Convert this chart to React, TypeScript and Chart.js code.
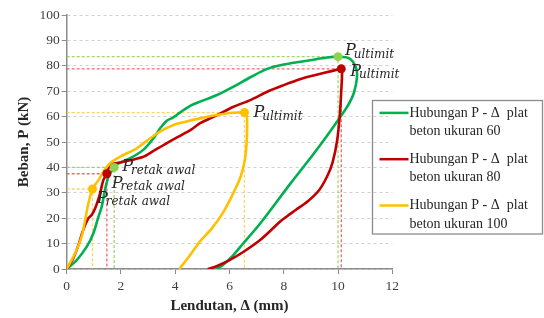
import { useEffect, useRef } from 'react';
import { Chart, registerables } from 'chart.js';

Chart.register(...registerables);

// ---------- data ----------
const seriesNames = [
  ['Hubungan P - Δ  plat', 'beton ukuran 60'],
  ['Hubungan P - Δ  plat', 'beton ukuran 80'],
  ['Hubungan P - Δ  plat', 'beton ukuran 100'],
];

const defl60 = [0, 0.37, 0.74, 0.98, 1.17, 1.29, 1.41, 1.54, 1.75, 1.91, 2.34, 2.83, 3.2, 3.45, 3.7, 3.9, 4.1, 4.31, 4.6, 4.92, 5.54, 6.15, 6.77, 7.39, 8.0, 8.62, 9.2, 9.6, 10.0, 10.4, 10.65, 10.7, 10.58, 10.34, 10.09, 9.48, 8.86, 8.25, 7.1, 6.5, 6.1, 5.75, 5.5];
const load60 = [0, 3.5, 8.8, 14, 20.6, 24.5, 31.1, 36.3, 40, 41.6, 43.6, 47, 51.5, 55.5, 58.5, 59.5, 61, 62.6, 64.5, 65.9, 68.5, 71.8, 75.5, 78.8, 80.5, 81.6, 82.6, 83.3, 83.6, 83, 79.6, 75.7, 69.2, 63.9, 60, 50.8, 42, 33.7, 17.5, 10, 5, 1.5, 0];

const defl80 = [0, 0.24, 0.43, 0.61, 0.8, 0.92, 1.05, 1.23, 1.35, 1.48, 1.57, 1.66, 2.09, 2.83, 3.2, 3.6, 4.1, 4.6, 4.92, 5.54, 6.15, 6.77, 7.39, 8.0, 8.62, 9.1, 9.5, 9.9, 10.12, 10.15, 10.12, 10.07, 9.97, 9.8, 9.6, 9.3, 8.9, 8.45, 8.1, 7.88, 7.14, 6.52, 6.0, 5.5, 5.2];
const load80 = [0, 4.2, 9.4, 15.4, 20, 21.3, 23.9, 29.8, 35, 37.5, 40.5, 41.3, 42.2, 44.2, 46.5, 49, 52, 55, 57.4, 60.6, 63.9, 66.5, 69.8, 72.4, 74.8, 76.2, 77.3, 78.3, 78.8, 77, 70.5, 61.3, 50.8, 42, 36.5, 31, 26.8, 23.3, 20.6, 18.8, 11.5, 6.8, 3.5, 1, 0];

const defl100 = [0, 0.31, 0.55, 0.68, 0.8, 0.95, 1.17, 1.35, 1.6, 1.97, 2.58, 3.08, 3.45, 3.94, 4.31, 4.92, 5.54, 6.15, 6.55, 6.63, 6.65, 6.62, 6.55, 6.4, 6.1, 5.75, 5.35, 4.92, 4.55, 4.15];
const load100 = [0, 6.2, 12.7, 19.3, 25.9, 31.5, 35, 38.3, 41.6, 44.2, 47.5, 51.5, 54.2, 56.7, 57.8, 59.3, 60.6, 61.5, 61.6, 61, 55, 48, 42, 36, 29, 22, 16, 11, 5.5, 0];

const crackDefl = [1.75, 1.48, 0.95];
const crackLoad = [40, 37.5, 31.5];
const ultDefl = [10.0, 10.12, 6.55];
const ultLoad = [83.6, 78.8, 61.6];

const crackText = 'retak awal';
const ultText = 'ultimit';

// ---------- styles ----------
const lineColors = ['#00B050', '#C00000', '#FFC000'];
const dotColors = ['#92D050', '#C00000', '#FFC000'];
const guideColors = ['rgba(146,208,80,0.85)', 'rgba(235,70,70,0.8)', 'rgba(255,200,60,0.8)'];

const zip = (xs: number[], ys: number[]) => xs.map((x, i) => ({ x, y: ys[i] }));

const labelPlugin = {
  id: 'pointLabels',
  afterDatasetsDraw(chart: any) {
    const { ctx, scales } = chart;
    const xs = scales.x;
    const ys = scales.y;
    const ultOff = [[7, -1.5], [9, 7], [9, 4.5]];
    const crackOff = [[8, 4], [5, 14], [4.5, 14]];
    const draw = (px: number, py: number, off: number[], sub: string) => {
      const x = px + off[0];
      const y = py + off[1];
      ctx.save();
      ctx.fillStyle = '#262626';
      ctx.textBaseline = 'alphabetic';
      ctx.textAlign = 'left';
      ctx.font = 'italic 16px "DejaVu Serif"';
      ctx.fillText('P', x, y);
      const w = ctx.measureText('P').width;
      ctx.font = 'italic 12px "DejaVu Serif"';
      ctx.fillText(sub, x + w - 2, y + 2.5);
      ctx.restore();
    };
    for (let i = 0; i < 3; i++) {
      draw(xs.getPixelForValue(ultDefl[i]), ys.getPixelForValue(ultLoad[i]), ultOff[i], ultText);
      draw(xs.getPixelForValue(crackDefl[i]), ys.getPixelForValue(crackLoad[i]), crackOff[i], crackText);
    }
  },
};

const legendPlugin = {
  id: 'boxLegend',
  afterDraw(chart: any) {
    const { ctx } = chart;
    ctx.save();
    ctx.strokeStyle = '#8c8c8c';
    ctx.lineWidth = 1.3;
    ctx.strokeRect(372.5, 100.5, 170, 133.5);
    ctx.font = '14px "Liberation Serif"';
    ctx.fillStyle = '#262626';
    ctx.textAlign = 'left';
    ctx.textBaseline = 'alphabetic';
    for (let i = 0; i < seriesNames.length; i++) {
      const base = 116.7 + i * 46.3;
      ctx.strokeStyle = lineColors[i];
      ctx.lineWidth = 2.5;
      ctx.beginPath();
      ctx.moveTo(379.5, base - 3.8);
      ctx.lineTo(408.5, base - 3.8);
      ctx.stroke();
      ctx.fillText(seriesNames[i][0], 409.5, base);
      ctx.fillText(seriesNames[i][1], 409.5, base + 18.3);
    }
    ctx.restore();
  },
};

export default function App() {
  const ref = useRef<HTMLCanvasElement | null>(null);

  useEffect(() => {
    if (!ref.current) return;
    const curves = [zip(defl60, load60), zip(defl80, load80), zip(defl100, load100)];
    const makeGuide = (label: string, gx: number, gy: number, i: number) => ({
      type: 'scatter' as const,
      label,
      data: [
        { x: 0, y: gy },
        { x: gx, y: gy },
        { x: gx, y: 0 },
      ],
      showLine: true,
      borderColor: guideColors[i],
      borderWidth: 1.3,
      borderDash: [3, 2],
      pointRadius: 0,
      tension: 0,
      order: 10,
    });
    const guides = [0, 1, 2].map((i) => makeGuide('guide-ult-' + i, ultDefl[i], ultLoad[i], i))
      .concat([0, 1, 2].map((i) => makeGuide('guide-crack-' + i, crackDefl[i], crackLoad[i], i)));

    const lineSets = curves.map((d, i) => ({
      type: 'scatter' as const,
      label: seriesNames[i].join(' '),
      data: d,
      showLine: true,
      borderColor: lineColors[i],
      backgroundColor: lineColors[i],
      borderWidth: 2.6,
      pointRadius: 0,
      tension: 0.3,
      order: 5 - i,
    }));

    const pointSet = {
      type: 'scatter' as const,
      label: 'points',
      data: [...zip(crackDefl, crackLoad), ...zip(ultDefl, ultLoad)],
      showLine: false,
      pointRadius: 4.5,
      pointBackgroundColor: [...dotColors, ...dotColors],
      pointBorderColor: [...dotColors, ...dotColors],
      pointBorderWidth: 0,
      order: 0,
    };

    const serif = '"Liberation Serif", "Times New Roman", serif';

    const chart = new Chart(ref.current, {
      type: 'scatter',
      data: { datasets: [...guides, ...lineSets, pointSet] as any },
      options: {
        animation: false,
        responsive: false,
        devicePixelRatio: 1,
        layout: { padding: { left: 0, right: 151.7, top: 15, bottom: 0 } },
        plugins: { legend: { display: false }, tooltip: { enabled: false } },
        scales: {
          x: {
            type: 'linear',
            min: 0,
            max: 12,
            afterFit: (s: any) => { s.height = 49; },
            ticks: { stepSize: 2, color: '#404040', font: { family: serif, size: 13.5 }, padding: 4.5, maxRotation: 0 },
            grid: { drawOnChartArea: false, drawTicks: true, tickLength: 5, tickColor: '#8c8c8c', tickWidth: 1 },
            border: { color: '#8c8c8c', width: 1.5 },
            title: { display: true, text: 'Lendutan, Δ (mm)', color: '#262626', font: { family: serif, size: 15, weight: 'bold' }, padding: { top: 0, bottom: 3 } },
          },
          y: {
            type: 'linear',
            min: 0,
            max: 100,
            afterFit: (s: any) => { s.width = 66.7; },
            ticks: { stepSize: 10, color: '#404040', font: { family: serif, size: 13.5 }, padding: 2 },
            grid: { color: '#d0d0d0', lineWidth: 1, drawTicks: true, tickLength: 5, tickColor: '#8c8c8c', tickWidth: 1, tickBorderDash: [] },
            border: { color: '#8c8c8c', width: 1.5, dash: [3, 3] },
            title: { display: true, text: 'Beban, P (kN)', color: '#262626', font: { family: serif, size: 15, weight: 'bold' }, padding: { top: 15, bottom: 0 } },
          },
        },
      },
      plugins: [labelPlugin, legendPlugin],
    } as any);
    return () => chart.destroy();
  }, []);

  return (
    <div style={{ position: 'absolute', left: 0, top: 0, width: 544, height: 318, background: '#fff' }}>
      <canvas ref={ref} width={544} height={318} style={{ display: 'block', width: 544, height: 318 }} />
    </div>
  );
}
